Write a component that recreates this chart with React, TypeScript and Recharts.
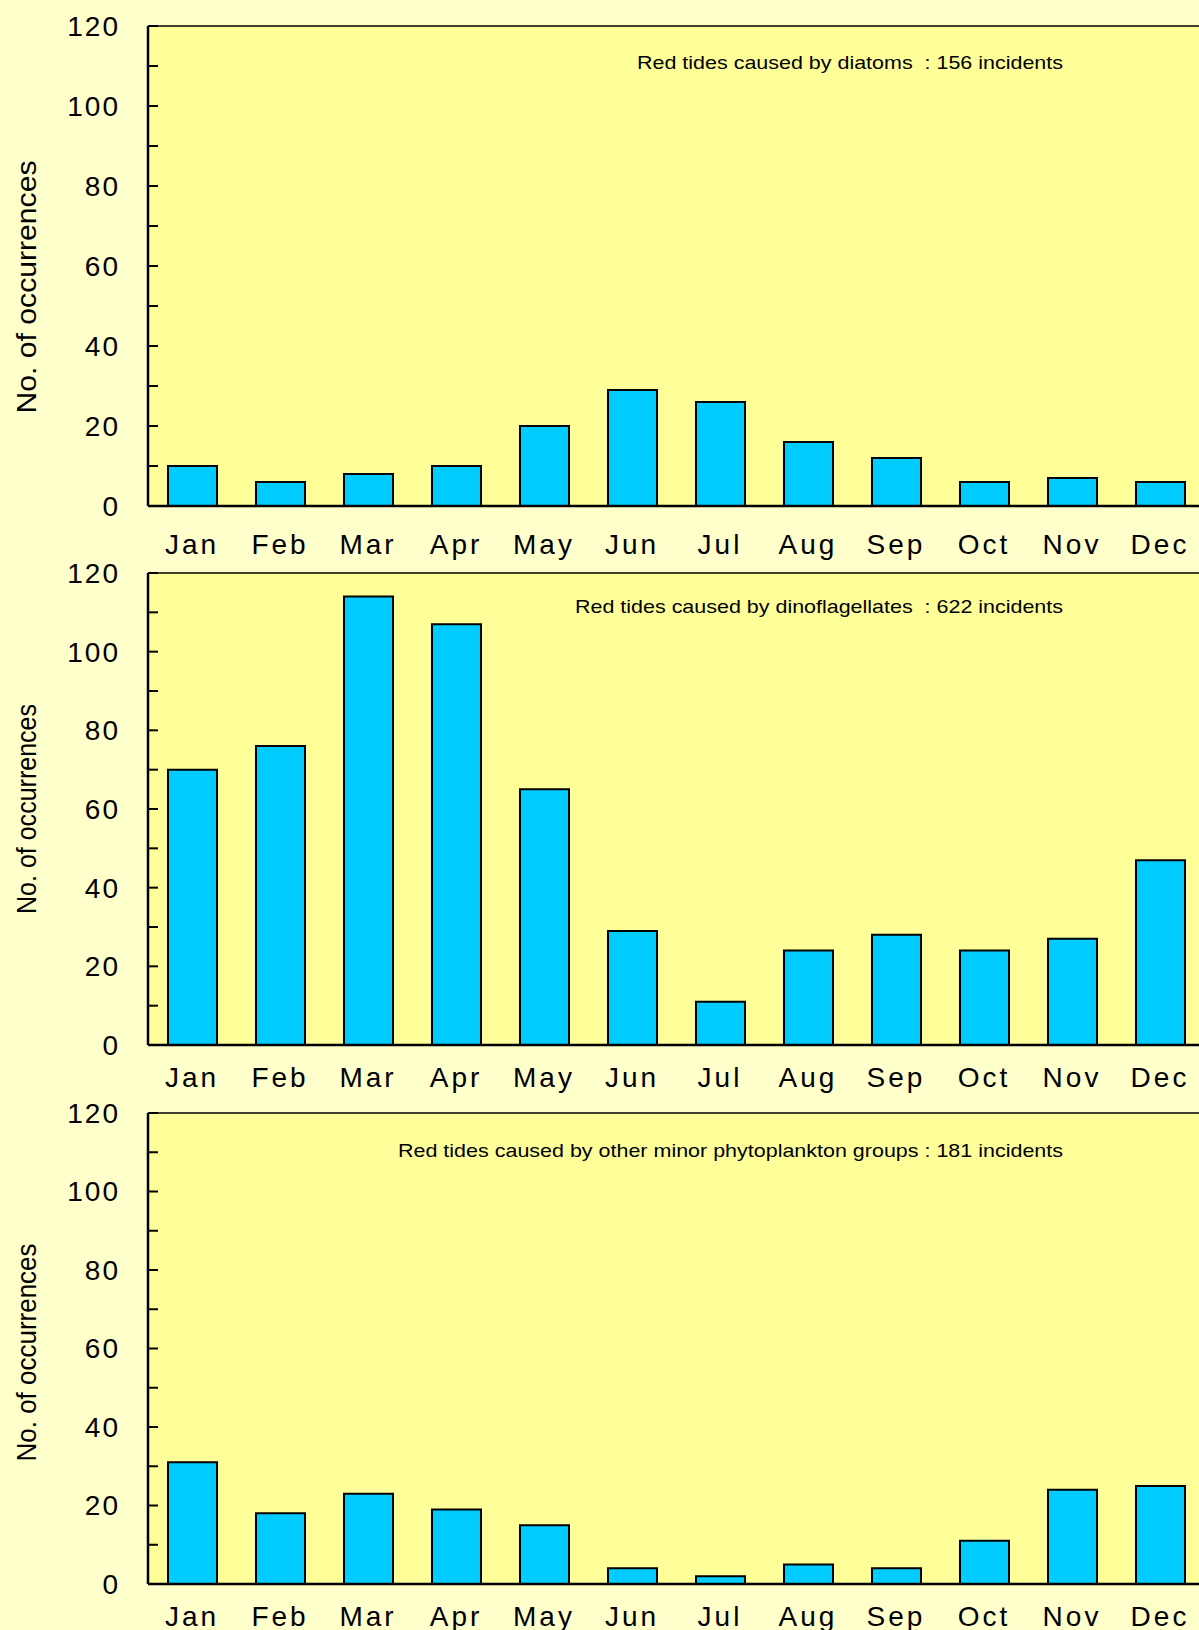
import React from 'react';
import { BarChart, Bar, XAxis, YAxis, CartesianGrid, ReferenceLine } from 'recharts';

const MONTHS = ['Jan', 'Feb', 'Mar', 'Apr', 'May', 'Jun', 'Jul', 'Aug', 'Sep', 'Oct', 'Nov', 'Dec'];

// monthly counts
const DIATOMS = [10, 6, 8, 10, 20, 29, 26, 16, 12, 6, 7, 6];
const DINOFLAGELLATES = [70, 76, 114, 107, 65, 29, 11, 24, 28, 24, 27, 47];
const OTHER_GROUPS = [31, 18, 23, 19, 15, 4, 2, 5, 4, 11, 24, 25];

const Y_TICKS = [0, 10, 20, 30, 40, 50, 60, 70, 80, 90, 100, 110, 120];
const Y_TITLE = 'No. of occurrences';

const NOTES = [
    'Red tides caused by diatoms  : 156 incidents',
    'Red tides caused by dinoflagellates  : 622 incidents',
    'Red tides caused by other minor phytoplankton groups : 181 incidents',
];

const FONT = '"Liberation Sans", Arial, Helvetica, sans-serif';
const PAGE_BG = '#ffffcc';
const PLOT_BG = '#ffff99';
const BAR_FILL = '#00ccff';

const tickLabel = (v: number) => (v % 20 === 0 ? String(v) : '');

const axisTitle = (length: number, shift: number) => (props: any) => {
    const vb = props.viewBox || {};
    const cx = 26;
    const cy = vb.y + vb.height / 2 + shift;
    return (
        <text
            x={cx}
            y={cy}
            transform={`rotate(-90 ${cx} ${cy})`}
            textAnchor="middle"
            dominantBaseline="central"
            fontSize={28}
            fontFamily={FONT}
            fill="#000"
            textLength={length}
            lengthAdjust="spacingAndGlyphs"
        >
            {Y_TITLE}
        </text>
    );
};

const noteLabel = (text: string, length: number, drop: number) => (props: any) => {
    const vb = props.viewBox || {};
    return (
        <text
            x={1063}
            y={vb.y + drop}
            textAnchor="end"
            dominantBaseline="central"
            fontSize={19}
            fontFamily={FONT}
            fill="#000"
            xmlSpace="preserve"
            textLength={length}
            lengthAdjust="spacingAndGlyphs"
        >
            {text}
        </text>
    );
};

interface PanelProps {
    values: number[];
    note: string;
    noteLength: number;
    noteDrop: number;
    titleLength: number;
    titleShift: number;
    top: number;
    height: number;
    marginTop: number;
    axisHeight: number;
    tickGap: number;
}

const Panel: React.FC<PanelProps> = ({
    values, note, noteLength, noteDrop, titleLength, titleShift, top, height, marginTop, axisHeight, tickGap,
}) => {
    const data = MONTHS.map((m, i) => ({ month: m, count: values[i] }));
    return (
        <div style={{ position: 'absolute', left: 0, top }}>
            <BarChart
                width={1210}
                height={height}
                data={data}
                margin={{ top: marginTop, right: 6, bottom: 0, left: 0 }}
                barSize={49}
                style={{ overflow: 'visible' }}
            >
                <CartesianGrid horizontal={false} vertical={false} fill={PLOT_BG} stroke="none" />
                <XAxis
                    dataKey="month"
                    height={axisHeight}
                    interval={0}
                    tickLine={false}
                    tickMargin={tickGap}
                    axisLine={{ stroke: '#000', strokeWidth: 2.5 }}
                    tick={{ fill: '#000', fontSize: 28, fontFamily: FONT, letterSpacing: 3 }}
                />
                <YAxis
                    width={148}
                    domain={[0, 120]}
                    ticks={Y_TICKS}
                    interval={0}
                    tickFormatter={tickLabel}
                    tickSize={-10}
                    tickMargin={38}
                    axisLine={{ stroke: '#000', strokeWidth: 2.5 }}
                    tickLine={{ stroke: '#000', strokeWidth: 2 }}
                    tick={{ fill: '#000', fontSize: 28, fontFamily: FONT, letterSpacing: 2 }}
                    label={{ content: axisTitle(titleLength, titleShift) }}
                />
                <ReferenceLine
                    y={120}
                    stroke="#000"
                    strokeWidth={1.5}
                    label={{ content: noteLabel(note, noteLength, noteDrop) }}
                />
                <Bar
                    dataKey="count"
                    fill={BAR_FILL}
                    stroke="#000"
                    strokeWidth={2}
                    isAnimationActive={false}
                />
            </BarChart>
        </div>
    );
};

export default function App() {
    return (
        <div
            style={{
                position: 'absolute',
                left: 0,
                top: 0,
                width: 1199,
                height: 1630,
                overflow: 'hidden',
                background: PAGE_BG,
                fontFamily: FONT,
            }}
        >
            <Panel
                values={DIATOMS}
                note={NOTES[0]}
                noteLength={426}
                noteDrop={36}
                titleLength={253}
                titleShift={21}
                top={0}
                height={560}
                marginTop={26}
                axisHeight={54}
                tickGap={22}
            />
            <Panel
                values={DINOFLAGELLATES}
                note={NOTES[1]}
                noteLength={488}
                noteDrop={33}
                titleLength={210}
                titleShift={0}
                top={545}
                height={550}
                marginTop={28}
                axisHeight={50}
                tickGap={16}
            />
            <Panel
                values={OTHER_GROUPS}
                note={NOTES[2]}
                noteLength={665}
                noteDrop={37}
                titleLength={218}
                titleShift={4}
                top={1080}
                height={550}
                marginTop={33}
                axisHeight={46}
                tickGap={16}
            />
        </div>
    );
}
